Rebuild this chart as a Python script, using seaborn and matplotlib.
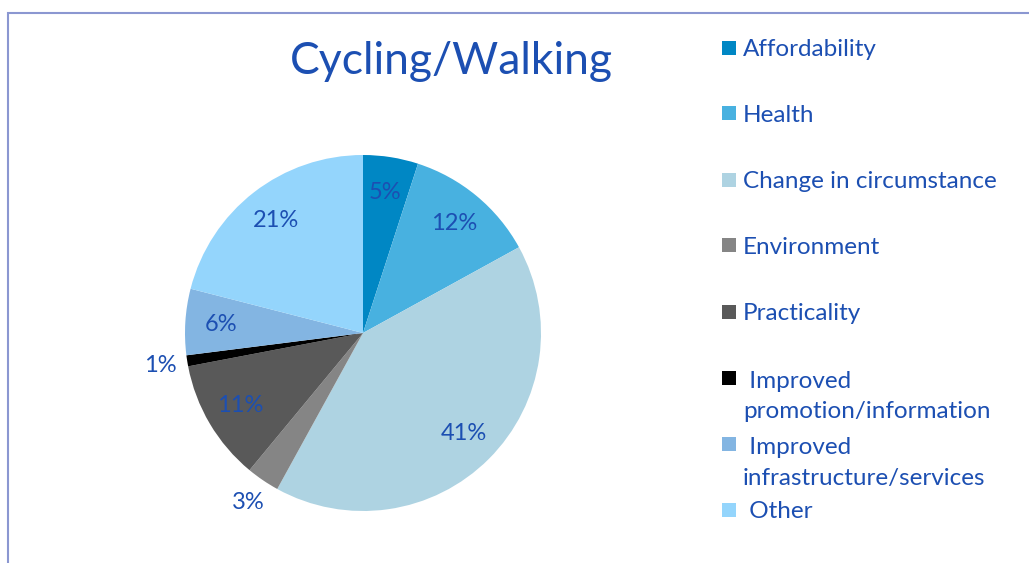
import matplotlib.pyplot as plt
import seaborn as sns
import numpy as np
from matplotlib.patches import Rectangle

# chart data
categories = ['Affordability', 'Health', 'Change in circumstance', 'Environment',
              'Practicality', ' Improved\npromotion/information',
              ' Improved\ninfrastructure/services', ' Other']
shares = [5, 12, 41, 3, 11, 1, 6, 21]
colors = ['#0087c4', '#48b1e0', '#aed3e2', '#858585',
          '#595959', '#000000', '#83b5e2', '#94d5fc']

text_blue = '#1c4fb2'

sns.set_style("white")
plt.rcParams['font.family'] = ['Lato', 'DejaVu Sans']

W, H = 1029, 563
fig = plt.figure(figsize=(W / 100, H / 100), dpi=100)

# light frame round the chart area
fig.patches.append(Rectangle((8 / W, -0.1), 1.2, 1 - 13 / H + 0.1,
                             transform=fig.transFigure, fill=False,
                             edgecolor='#8b97d1', linewidth=1.5))

# pie axes: centre (363, 333) px, radius 178 px
cx, cy, r = 363, 333, 178
ax = fig.add_axes([(cx - r) / W, (H - cy - r) / H, 2 * r / W, 2 * r / H])
wedges, _ = ax.pie(shares, colors=colors, startangle=90, counterclock=False,
                   wedgeprops=dict(linewidth=0))
ax.set_xlim(-1, 1)
ax.set_ylim(-1, 1)
ax.set_aspect('equal')
ax.axis('off')

# percentage labels, small slices outside
for w, v in zip(wedges, shares):
    ang = np.deg2rad((w.theta1 + w.theta2) / 2)
    d = 1.15 if v <= 3 else 0.8
    ax.text(d * np.cos(ang), d * np.sin(ang), f'{v}%', ha='center',
            va='center', fontsize=17, color=text_blue)

fig.text(451 / W, 1 - 62 / H, 'Cycling/Walking', ha='center', va='center',
         fontsize=32, color=text_blue)

# legend, one slot of 66 px per entry
line_h = 33
for i, (lab, c) in enumerate(zip(categories, colors)):
    yc = 47.5 + 66 * i
    fig.patches.append(Rectangle((722 / W, 1 - (yc + 7) / H), 14 / W, 14 / H,
                                 transform=fig.transFigure, facecolor=c,
                                 edgecolor='none'))
    n_lines = lab.count('\n') + 1
    base = yc + 8 + line_h * (n_lines - 1)
    fig.text(743 / W, 1 - base / H, lab, ha='left', va='baseline',
             fontsize=17.5, color=text_blue, linespacing=1.55)

fig.savefig('out.png', dpi=100)
